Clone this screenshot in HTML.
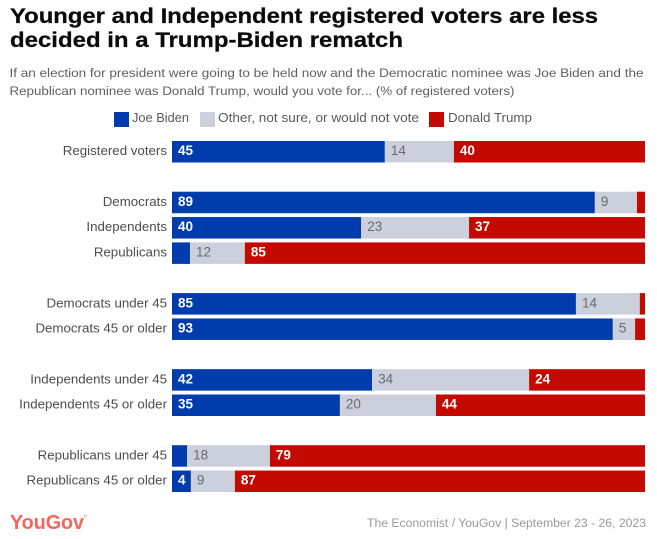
<!DOCTYPE html>
<html lang="en">
<head>
<meta charset="utf-8">
<title>Younger and Independent registered voters are less decided in a Trump-Biden rematch</title>
<style>
html,body{margin:0;padding:0;background:#fff;}
svg{display:block;font-family:"Liberation Sans",sans-serif;}
</style>
</head>
<body>
<svg id="chart" width="657" height="539" viewBox="0 0 657 539" xmlns="http://www.w3.org/2000/svg">
  <rect x="0" y="0" width="657" height="539" fill="#ffffff"/>
  <g font-size="21.5" font-weight="700" fill="#0a0a0a" stroke="#0a0a0a" stroke-width="0.25">
    <text x="10" y="23" textLength="588" lengthAdjust="spacingAndGlyphs">Younger and Independent registered voters are less</text>
    <text x="10" y="47" textLength="393" lengthAdjust="spacingAndGlyphs">decided in a Trump-Biden rematch</text>
  </g>
  <g font-size="12.2" fill="#5f5f5f">
    <text x="9.5" y="77" textLength="634" lengthAdjust="spacingAndGlyphs">If an election for president were going to be held now and the Democratic nominee was Joe Biden and the</text>
    <text x="9.5" y="95" textLength="505" lengthAdjust="spacingAndGlyphs">Republican nominee was Donald Trump, would you vote for... (% of registered voters)</text>
  </g>
  <g font-size="13" fill="#5a5a5a">
    <g>
      <rect x="114" y="112" width="15" height="15" fill="#013cac"/>
      <text x="132" y="122" textLength="57" lengthAdjust="spacingAndGlyphs">Joe Biden</text>
    </g>
    <g>
      <rect x="200" y="112" width="15" height="15" fill="#ccd0dc"/>
      <text x="218" y="122" textLength="201" lengthAdjust="spacingAndGlyphs">Other, not sure, or would not vote</text>
    </g>
    <g>
      <rect x="429" y="112" width="15" height="15" fill="#c40a00"/>
      <text x="448" y="122" textLength="84" lengthAdjust="spacingAndGlyphs">Donald Trump</text>
    </g>
  </g>
  <g id="rows"></g>
  <text x="10" y="529" font-size="20" font-weight="700" fill="#f4665c" textLength="74" lengthAdjust="spacingAndGlyphs">YouGov</text>
  <circle cx="85.5" cy="516" r="1.3" fill="none" stroke="#f4a59f" stroke-width="0.6"/>
  <text x="646" y="527" text-anchor="end" font-size="12.2" fill="#9a9a9a" textLength="279" lengthAdjust="spacingAndGlyphs">The Economist / YouGov | September 23 - 26, 2023</text>
</svg>
<script>
const categories = ["Registered voters","Democrats","Independents","Republicans","Democrats under 45","Democrats 45 or older","Independents under 45","Independents 45 or older","Republicans under 45","Republicans 45 or older"];
const groups = [0,1,1,1,2,2,3,3,4,4];
const bidenValues = [45.0,89.4,40.0,3.8,85.4,93.2,42.3,35.5,3.2,4.0];
const otherValues = [14.6,8.9,22.8,11.6,13.5,4.7,33.2,20.3,17.5,9.3];
const trumpValues = [40.4,1.7,37.2,84.6,1.1,2.1,24.5,44.2,79.3,86.7];
const bidenLabels = ["45","89","40","","85","93","42","35","","4"];
const otherLabels = ["14","9","23","12","14","5","34","20","18","9"];
const trumpLabels = ["40","","37","85","","","24","44","79","87"];

const NS = "http://www.w3.org/2000/svg";
const plotLeft = 172, plotWidth = 473, domainMax = 100;
const rowTop = 141, rowStep = 25.35, barHeight = 21.5;
const xScale = v => plotLeft + (v / domainMax) * plotWidth;
const widthScale = v => (v / domainMax) * plotWidth;
const rowY = i => rowTop + (i + groups[i]) * rowStep;
const rowsLayer = document.getElementById("rows");

function slug(s){ return s.toLowerCase().replace(/\s+/g, "-"); }

function drawSegment(parent, i, start, value, fill, label, labelFill, seriesName){
  const y = rowY(i);
  const rect = document.createElementNS(NS, "rect");
  
  
  rect.setAttribute("x", xScale(start));
  rect.setAttribute("y", y);
  rect.setAttribute("width", widthScale(value));
  rect.setAttribute("height", barHeight);
  rect.setAttribute("fill", fill);
  parent.appendChild(rect);
  if (label !== "") {
    const t = document.createElementNS(NS, "text");
    
    
    t.setAttribute("x", xScale(start) + 6);
    t.setAttribute("y", y + barHeight / 2 + 3.4);
    t.setAttribute("font-size", "13.5");
    t.setAttribute("font-weight", seriesName === "other" ? "400" : "700");
    t.setAttribute("fill", labelFill);
    t.textContent = label;
    parent.appendChild(t);
  }
}

categories.forEach((name, i) => {
  const g = document.createElementNS(NS, "g");
  
  
  const cat = document.createElementNS(NS, "text");
  
  
  cat.setAttribute("x", plotLeft - 5);
  cat.setAttribute("y", rowY(i) + barHeight / 2 + 3.4);
  cat.setAttribute("text-anchor", "end");
  cat.setAttribute("font-size", "13.3");
  cat.setAttribute("fill", "#4d4d4d");
  cat.textContent = name;
  g.appendChild(cat);
  drawSegment(g, i, 0, bidenValues[i], "#013cac", bidenLabels[i], "#ffffff", "biden");
  drawSegment(g, i, bidenValues[i], otherValues[i], "#ccd0dc", otherLabels[i], "#666a70", "other");
  drawSegment(g, i, bidenValues[i] + otherValues[i], trumpValues[i], "#c40a00", trumpLabels[i], "#ffffff", "trump");
  rowsLayer.appendChild(g);
});
</script>
</body>
</html>
